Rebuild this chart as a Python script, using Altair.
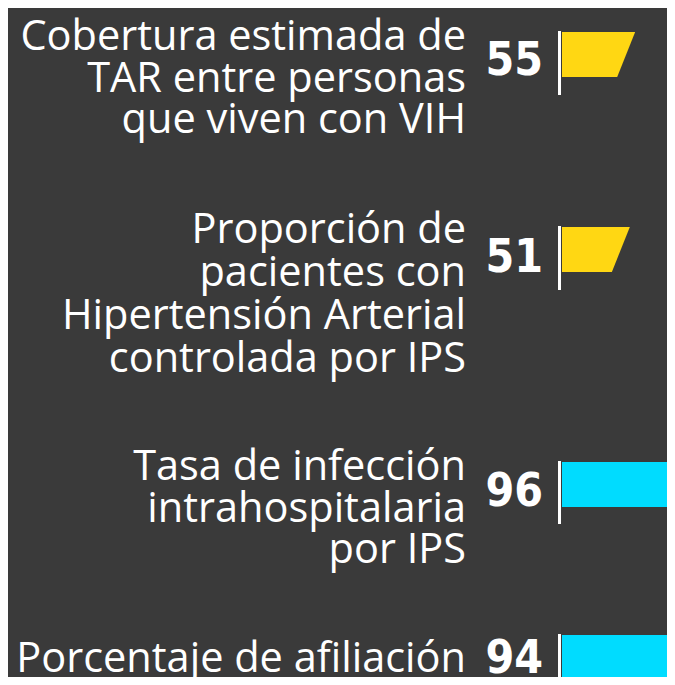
import altair as alt
import pandas as pd

# ---- data ----
labels = [
    ["Cobertura estimada de", "TAR entre personas", "que viven con VIH"],
    ["Proporción de", "pacientes con", "Hipertensión Arterial", "controlada por IPS"],
    ["Tasa de infección", "intrahospitalaria", "por IPS"],
    ["Porcentaje de afiliación"],
]
values = [55, 51, 96, 94]
bar_colors = ["#FFD713", "#FFD713", "#00DCFF", "#00DCFF"]

# ---- layout / style ----
W = 659
panel_heights = [195, 235, 173, 66]
label_baselines = [42, 40, 42, 61]
label_line_heights = [41.5, 43, 41.5, 41.5]
num_baselines = [67, 69, 68, 62]
rule_bottoms = [87, 87, 86, 66]
zero_px = 554
px_per_unit = 1.33
slant_units = 13.5
x_scale = alt.Scale(domain=[-zero_px / px_per_unit, (W - zero_px) / px_per_unit], nice=False, zero=False)
LABEL_FONT = "Open Sans"
NUM_FONT = "DejaVu Sans Condensed"

rows = pd.DataFrame({
    "row": list(range(len(values))),
    "label": ["\n".join(l) for l in labels],
    "value": values,
})
edges = pd.DataFrame({"edge": [0, 1]})
area_df = rows.merge(edges, how="cross")


def panel(i):
    xd = alt.XDatum(0, scale=x_scale, axis=None)
    area = (
        alt.Chart(area_df)
        .transform_filter(alt.datum.row == i)
        .transform_calculate(end=f"datum.value - {slant_units}*datum.edge", start="0")
        .mark_area(orient="horizontal", clip=True, color=bar_colors[i], opacity=1)
        .encode(
            x=alt.X("end:Q", scale=x_scale, axis=None),
            x2="start:Q",
            y=alt.Y("edge:Q", scale=alt.Scale(domain=[0, 1], range=[24, 69]), axis=None),
        )
    )
    base = alt.Chart(rows).transform_filter(alt.datum.row == i)
    rule = base.mark_rule(color="white", strokeWidth=3, xOffset=-2.5, clip=True).encode(
        x=xd, y=alt.value(23), y2=alt.value(rule_bottoms[i])
    )
    num = base.mark_text(
        align="right", baseline="alphabetic", font=NUM_FONT, fontWeight="bold",
        fontSize=46, color="white", dx=-19, clip=True,
    ).encode(x=xd, y=alt.value(num_baselines[i]), text="value:Q")
    lab = base.mark_text(
        align="right", baseline="alphabetic", font=LABEL_FONT, fontSize=41.5,
        lineBreak="\n", lineHeight=label_line_heights[i], color="white", dx=-96, clip=True,
    ).encode(x=xd, y=alt.value(label_baselines[i]), text="label:N")
    return alt.layer(area, rule, num, lab).properties(width=W, height=panel_heights[i])


chart = (
    alt.vconcat(*[panel(i) for i in range(len(values))], spacing=0)
    .properties(padding=0, background="#3a3a3a")
    .configure_view(stroke=None)
)
chart.save("out.html", embed_options={"renderer": "svg", "actions": False})
